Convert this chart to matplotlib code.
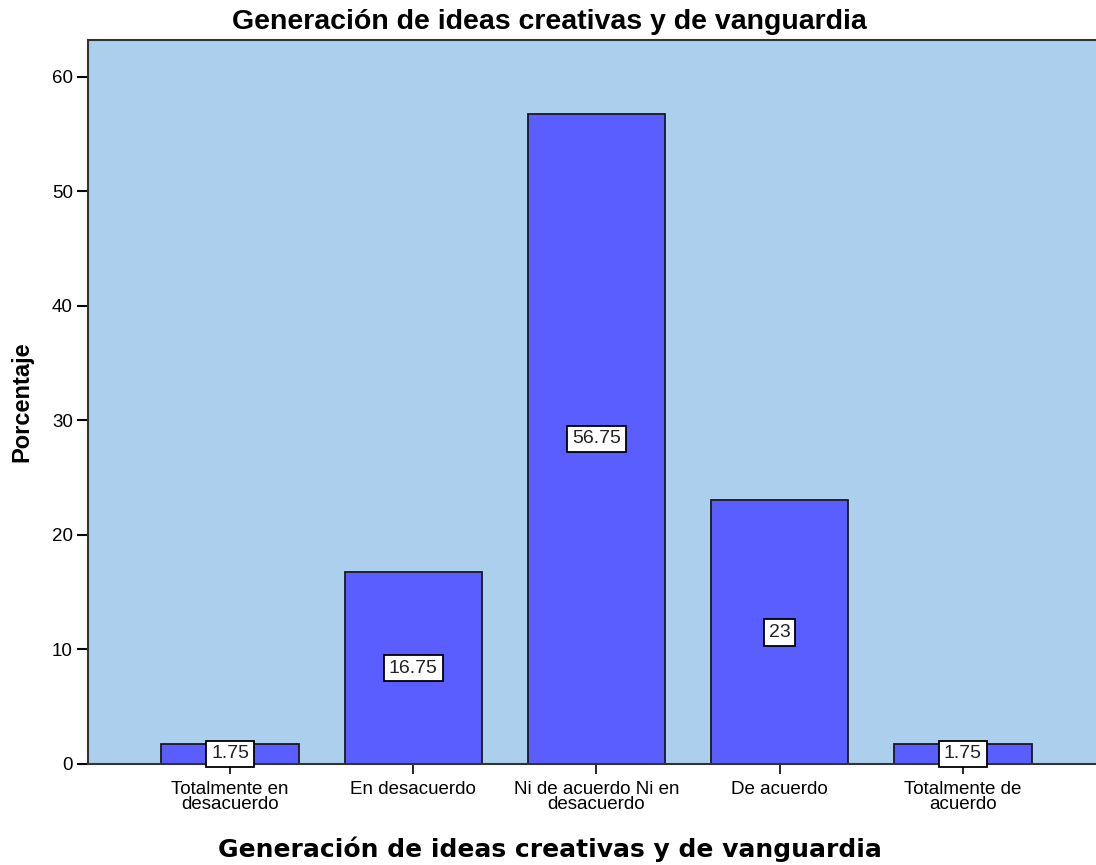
import matplotlib.pyplot as plt

categorias = ["Totalmente en\ndesacuerdo", "En desacuerdo", "Ni de acuerdo Ni en\ndesacuerdo",
              "De acuerdo", "Totalmente de\nacuerdo"]
porcentajes = [1.75, 16.75, 56.75, 23, 1.75]
etiquetas = ["1.75", "16.75", "56.75", "23", "1.75"]

plt.rcParams['font.family'] = ['Liberation Sans', 'DejaVu Sans']

fig = plt.figure(figsize=(10.96, 8.65), dpi=100)
ax = fig.add_axes([0.0803, 0.1168, 0.9197, 0.837])
ax.set_facecolor('#ADCFEE')

x = list(range(len(categorias)))
ax.bar(x, porcentajes, width=0.75, color='#5A5EFF', edgecolor='#1a1a1a', linewidth=1.3, zorder=2)

for xi, v, t in zip(x, porcentajes, etiquetas):
    ax.text(xi, v / 2, t, ha='center', va='center', fontsize=14, color='#222222', zorder=3,
            bbox=dict(boxstyle='square,pad=0.25', facecolor='white', edgecolor='black', linewidth=1.3))

ax.set_xlim(-0.776, 4.727)
ax.set_ylim(0, 63.2)
ax.set_yticks([0, 10, 20, 30, 40, 50, 60])
ax.set_xticks(x)
ax.set_xticklabels(categorias, fontsize=13.5, linespacing=0.85)
ax.tick_params(axis='y', labelsize=13.5, length=8, width=1.5, direction='out', pad=3)
ax.tick_params(axis='x', length=7, width=1.2, direction='out', pad=5)

for s in ['left', 'bottom', 'top']:
    ax.spines[s].set_linewidth(1.5)
    ax.spines[s].set_color('#333333')
ax.spines['right'].set_visible(False)

ax.set_ylabel("Porcentaje", fontsize=17, fontweight='bold', labelpad=13)
ax.set_xlabel("Generación de ideas creativas y de vanguardia", fontsize=18, fontweight='bold',
              family=['DejaVu Sans'], labelpad=17, x=0.458)
ax.set_title("Generación de ideas creativas y de vanguardia", fontsize=20.5, fontweight='bold',
             pad=8, x=0.458)

fig.savefig("out.png", dpi=100)
